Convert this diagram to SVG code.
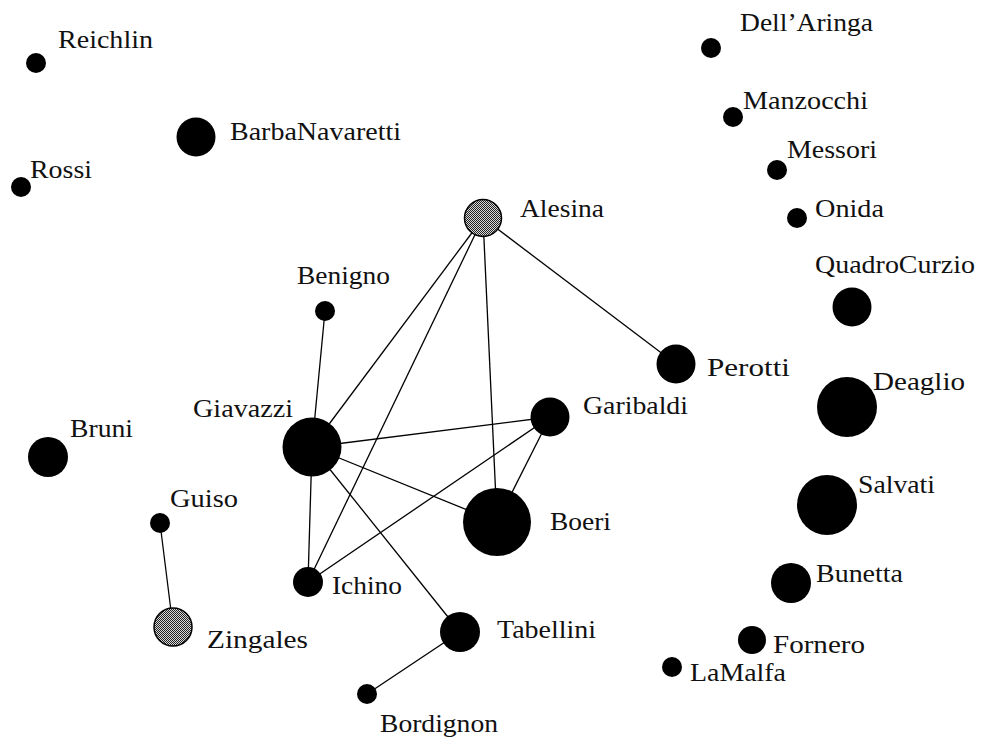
<svg xmlns="http://www.w3.org/2000/svg" width="981" height="738" viewBox="0 0 981 738">
<style>
text{font-family:"Liberation Serif","Times New Roman",serif;font-size:25px;fill:#111}
.n{fill:#000}
.g{fill:url(#hatch);stroke:#000;stroke-width:1.5}
#edges line{stroke:#000;stroke-width:1.3}
</style>
<defs>
<pattern id="hatch" width="2" height="2" patternUnits="userSpaceOnUse">
<rect width="2" height="2" fill="#d8d8d8"/>
<rect width="1" height="1" fill="#222"/>
<rect x="1" y="1" width="1" height="1" fill="#222"/>
</pattern>
</defs>
<rect width="981" height="738" fill="#fff"/>
<g id="edges">
<line x1="483" y1="218" x2="312" y2="447"/>
<line x1="483" y1="218" x2="308" y2="582"/>
<line x1="483" y1="218" x2="497" y2="522"/>
<line x1="483" y1="218" x2="676" y2="364"/>
<line x1="325" y1="311" x2="312" y2="447"/>
<line x1="312" y1="447" x2="550" y2="417"/>
<line x1="312" y1="447" x2="497" y2="522"/>
<line x1="312" y1="447" x2="308" y2="582"/>
<line x1="312" y1="447" x2="460" y2="632"/>
<line x1="550" y1="417" x2="308" y2="582"/>
<line x1="550" y1="417" x2="497" y2="522"/>
<line x1="160" y1="523" x2="173" y2="627"/>
<line x1="460" y1="632" x2="367" y2="694"/>
</g>
<g id="Reichlin"><circle class="n" cx="36" cy="63" r="10"/><text x="58" y="48" textLength="95" lengthAdjust="spacingAndGlyphs">Reichlin</text></g>
<g id="Rossi"><circle class="n" cx="21" cy="187" r="10"/><text x="30" y="178" textLength="62" lengthAdjust="spacingAndGlyphs">Rossi</text></g>
<g id="BarbaNavaretti"><circle class="n" cx="196" cy="137" r="19.5"/><text x="230" y="140" textLength="171" lengthAdjust="spacingAndGlyphs">BarbaNavaretti</text></g>
<g id="DellAringa"><circle class="n" cx="711" cy="48" r="10"/><text x="740" y="31" textLength="133" lengthAdjust="spacingAndGlyphs">Dell’Aringa</text></g>
<g id="Manzocchi"><circle class="n" cx="733" cy="117" r="10"/><text x="743" y="109" textLength="125" lengthAdjust="spacingAndGlyphs">Manzocchi</text></g>
<g id="Messori"><circle class="n" cx="777" cy="170" r="10"/><text x="787" y="158" textLength="90" lengthAdjust="spacingAndGlyphs">Messori</text></g>
<g id="Onida"><circle class="n" cx="797" cy="218" r="10"/><text x="815" y="217" textLength="69" lengthAdjust="spacingAndGlyphs">Onida</text></g>
<g id="QuadroCurzio"><circle class="n" cx="852" cy="307" r="19.5"/><text x="815" y="273" textLength="160" lengthAdjust="spacingAndGlyphs">QuadroCurzio</text></g>
<g id="Deaglio"><circle class="n" cx="847" cy="407" r="30"/><text x="873" y="390" textLength="92" lengthAdjust="spacingAndGlyphs">Deaglio</text></g>
<g id="Salvati"><circle class="n" cx="827" cy="505" r="30"/><text x="858" y="493" textLength="77" lengthAdjust="spacingAndGlyphs">Salvati</text></g>
<g id="Bunetta"><circle class="n" cx="791" cy="583" r="20"/><text x="816" y="582" textLength="87" lengthAdjust="spacingAndGlyphs">Bunetta</text></g>
<g id="Fornero"><circle class="n" cx="752" cy="640" r="14"/><text x="773" y="653" textLength="92" lengthAdjust="spacingAndGlyphs">Fornero</text></g>
<g id="LaMalfa"><circle class="n" cx="672" cy="667" r="10"/><text x="690" y="681" textLength="96" lengthAdjust="spacingAndGlyphs">LaMalfa</text></g>
<g id="Alesina"><circle class="g" cx="483" cy="218" r="18.5"/><text x="520" y="217" textLength="84" lengthAdjust="spacingAndGlyphs">Alesina</text></g>
<g id="Benigno"><circle class="n" cx="325" cy="311" r="10"/><text x="297" y="284" textLength="93" lengthAdjust="spacingAndGlyphs">Benigno</text></g>
<g id="Perotti"><circle class="n" cx="676" cy="364" r="19.5"/><text x="707" y="376" textLength="83" lengthAdjust="spacingAndGlyphs">Perotti</text></g>
<g id="Garibaldi"><circle class="n" cx="550" cy="417" r="19.5"/><text x="583" y="414" textLength="105" lengthAdjust="spacingAndGlyphs">Garibaldi</text></g>
<g id="Giavazzi"><circle class="n" cx="312" cy="447" r="29.5"/><text x="193" y="417" textLength="100" lengthAdjust="spacingAndGlyphs">Giavazzi</text></g>
<g id="Bruni"><circle class="n" cx="48" cy="457" r="20"/><text x="70" y="437" textLength="63" lengthAdjust="spacingAndGlyphs">Bruni</text></g>
<g id="Boeri"><circle class="n" cx="497" cy="522" r="34"/><text x="550" y="530" textLength="61" lengthAdjust="spacingAndGlyphs">Boeri</text></g>
<g id="Guiso"><circle class="n" cx="160" cy="523" r="10"/><text x="170" y="507" textLength="68" lengthAdjust="spacingAndGlyphs">Guiso</text></g>
<g id="Zingales"><circle class="g" cx="173" cy="627" r="19"/><text x="207" y="648" textLength="101" lengthAdjust="spacingAndGlyphs">Zingales</text></g>
<g id="Ichino"><circle class="n" cx="308" cy="582" r="15"/><text x="332" y="594" textLength="70" lengthAdjust="spacingAndGlyphs">Ichino</text></g>
<g id="Tabellini"><circle class="n" cx="460" cy="632" r="20"/><text x="497" y="638" textLength="99" lengthAdjust="spacingAndGlyphs">Tabellini</text></g>
<g id="Bordignon"><circle class="n" cx="367" cy="694" r="10"/><text x="380" y="732" textLength="118" lengthAdjust="spacingAndGlyphs">Bordignon</text></g>
</svg>
